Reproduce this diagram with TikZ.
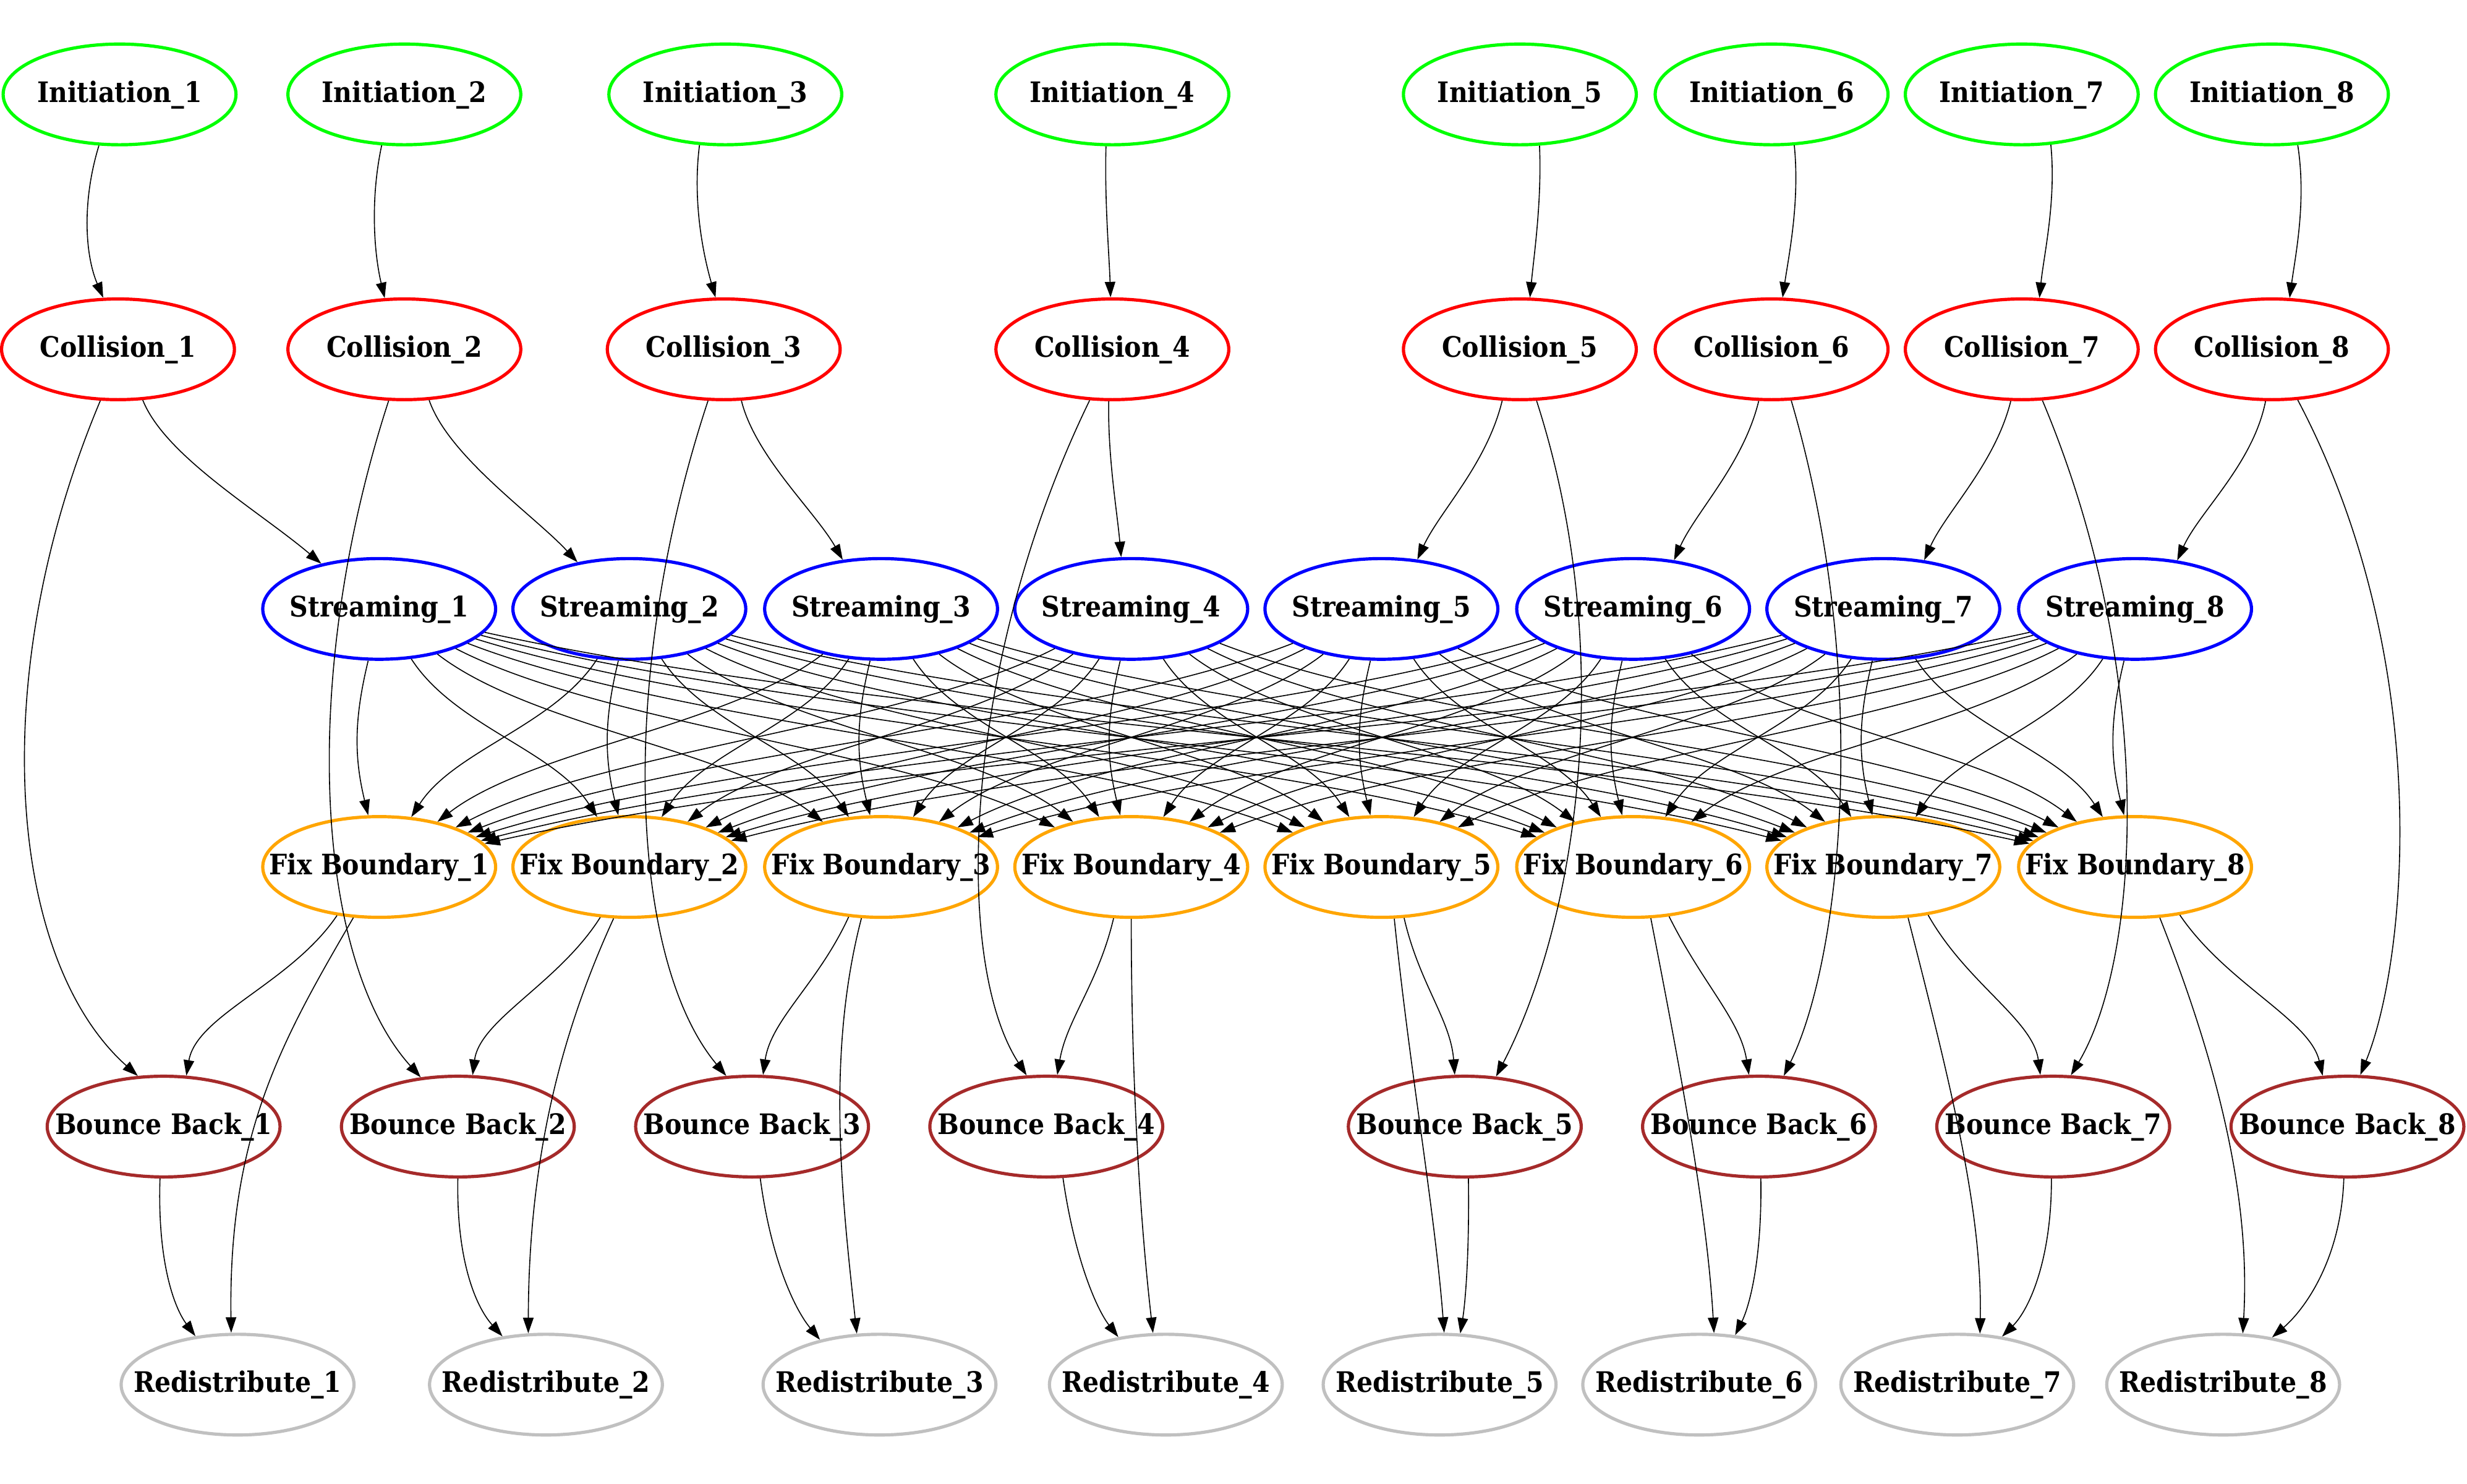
\documentclass[tikz,border=0pt]{standalone}
\usepackage{fontspec}
\setmainfont{DejaVu Serif Condensed}
\usetikzlibrary{shapes.geometric,arrows.meta,calc}
\definecolor{cini}{HTML}{00FF00}
\definecolor{ccol}{HTML}{FF0000}
\definecolor{cstr}{HTML}{0000FF}
\definecolor{cfix}{HTML}{FFA500}
\definecolor{cbb}{HTML}{A52A2A}
\definecolor{cred}{HTML}{C0C0C0}
\newcommand{\lbl}[1]{\makebox[0pt][c]{#1}}
\tikzset{
  nd/.style={ellipse, draw, line width=2.9pt, minimum width=74mm, minimum height=32mm, inner sep=0pt, text height=18pt, text depth=4pt, font=\fontsize{25.5}{30}\selectfont\bfseries},
  ini/.style={nd, draw=cini},
  col/.style={nd, draw=ccol},
  str/.style={nd, draw=cstr},
  fix/.style={nd, draw=cfix},
  bbk/.style={nd, draw=cbb},
  red/.style={nd, draw=cred},
  edge/.style={line width=0.9pt, -{Triangle[length=14pt,width=9.5pt]}}
}
\begin{document}
\begin{tikzpicture}[x=0.5mm,y=-0.5mm]
\useasboundingbox (0,0) rectangle (1568,943);
% Initiation
\node[ini] (i1) at (76,60) {\lbl{Initiation\_1}};
\node[ini] (i2) at (257,60) {\lbl{Initiation\_2}};
\node[ini] (i3) at (461,60) {\lbl{Initiation\_3}};
\node[ini] (i4) at (707,60) {\lbl{Initiation\_4}};
\node[ini] (i5) at (966,60) {\lbl{Initiation\_5}};
\node[ini] (i6) at (1126,60) {\lbl{Initiation\_6}};
\node[ini] (i7) at (1285,60) {\lbl{Initiation\_7}};
\node[ini] (i8) at (1444,60) {\lbl{Initiation\_8}};
% Collision
\node[col] (c1) at (75,222) {\lbl{Collision\_1}};
\node[col] (c2) at (257,222) {\lbl{Collision\_2}};
\node[col] (c3) at (460,222) {\lbl{Collision\_3}};
\node[col] (c4) at (707,222) {\lbl{Collision\_4}};
\node[col] (c5) at (966,222) {\lbl{Collision\_5}};
\node[col] (c6) at (1126,222) {\lbl{Collision\_6}};
\node[col] (c7) at (1285,222) {\lbl{Collision\_7}};
\node[col] (c8) at (1444,222) {\lbl{Collision\_8}};
% Streaming
\node[str] (s1) at (241,387) {\lbl{Streaming\_1}};
\node[str] (s2) at (400,387) {\lbl{Streaming\_2}};
\node[str] (s3) at (560,387) {\lbl{Streaming\_3}};
\node[str] (s4) at (719,387) {\lbl{Streaming\_4}};
\node[str] (s5) at (878,387) {\lbl{Streaming\_5}};
\node[str] (s6) at (1038,387) {\lbl{Streaming\_6}};
\node[str] (s7) at (1197,387) {\lbl{Streaming\_7}};
\node[str] (s8) at (1357,387) {\lbl{Streaming\_8}};
% Fix Boundary
\node[fix] (f1) at (241,551) {\lbl{Fix Boundary\_1}};
\node[fix] (f2) at (400,551) {\lbl{Fix Boundary\_2}};
\node[fix] (f3) at (560,551) {\lbl{Fix Boundary\_3}};
\node[fix] (f4) at (719,551) {\lbl{Fix Boundary\_4}};
\node[fix] (f5) at (878,551) {\lbl{Fix Boundary\_5}};
\node[fix] (f6) at (1038,551) {\lbl{Fix Boundary\_6}};
\node[fix] (f7) at (1197,551) {\lbl{Fix Boundary\_7}};
\node[fix] (f8) at (1357,551) {\lbl{Fix Boundary\_8}};
% Bounce Back
\node[bbk] (b1) at (104,716) {\lbl{Bounce Back\_1}};
\node[bbk] (b2) at (291,716) {\lbl{Bounce Back\_2}};
\node[bbk] (b3) at (478,716) {\lbl{Bounce Back\_3}};
\node[bbk] (b4) at (665,716) {\lbl{Bounce Back\_4}};
\node[bbk] (b5) at (931,716) {\lbl{Bounce Back\_5}};
\node[bbk] (b6) at (1118,716) {\lbl{Bounce Back\_6}};
\node[bbk] (b7) at (1305,716) {\lbl{Bounce Back\_7}};
\node[bbk] (b8) at (1492,716) {\lbl{Bounce Back\_8}};
% Redistribute
\node[red] (r1) at (151,880) {\lbl{Redistribute\_1}};
\node[red] (r2) at (347,880) {\lbl{Redistribute\_2}};
\node[red] (r3) at (559,880) {\lbl{Redistribute\_3}};
\node[red] (r4) at (741,880) {\lbl{Redistribute\_4}};
\node[red] (r5) at (915,880) {\lbl{Redistribute\_5}};
\node[red] (r6) at (1080,880) {\lbl{Redistribute\_6}};
\node[red] (r7) at (1244,880) {\lbl{Redistribute\_7}};
\node[red] (r8) at (1413,880) {\lbl{Redistribute\_8}};

% Initiation -> Collision
\draw[edge] (i1.248) .. controls (52,128) and (54,162) .. (c1.106);
\draw[edge] (i2.246) .. controls (235,128) and (238,162) .. (c2.111);
\draw[edge] (i3.243) .. controls (440,128) and (447,162) .. (c3.99);
\draw[edge] (i4.263) .. controls (702,128) and (705,162) .. (c4.92);
\draw[edge] (i5.291) .. controls (980,128) and (975,162) .. (c5.79);
\draw[edge] (i6.294) .. controls (1144,128) and (1137,162) .. (c6.78);
\draw[edge] (i7.300) .. controls (1307,128) and (1299,162) .. (c7.71);
\draw[edge] (i8.297) .. controls (1466,128) and (1459,162) .. (c8.71);

% Collision -> Streaming
\draw[edge] (c1.296) .. controls (105,290) and (165,325) .. (s1.142);
\draw[edge] (c2.296) .. controls (285,290) and (340,328) .. (s2.138);
\draw[edge] (c3.289) .. controls (480,290) and (518,325) .. (s3.128);
\draw[edge] (c4.266) .. controls (704,290) and (710,325) .. (s4.101);
\draw[edge] (c5.251) .. controls (945,295) and (915,325) .. (s5.54);
\draw[edge] (c6.256) .. controls (1108,295) and (1078,325) .. (s6.50);
\draw[edge] (c7.258) .. controls (1268,295) and (1237,325) .. (s7.50);
\draw[edge] (c8.263) .. controls (1432,295) and (1398,325) .. (s8.49);

% Collision -> Bounce Back
\draw[edge] (c1.251) .. controls (-10,430) and (5,610) .. (b1.117);
\draw[edge] (c2.253) .. controls (190,430) and (200,610) .. (b2.127);
\draw[edge] (c3.253) .. controls (392,430) and (400,610) .. (b3.117);
\draw[edge] (c4.246) .. controls (612,420) and (605,610) .. (b4.111);
\draw[edge] (c5.288) .. controls (1030,420) and (1000,590) .. (b5.58);
\draw[edge] (c6.291) .. controls (1190,430) and (1170,610) .. (b6.64);
\draw[edge] (c7.292) .. controls (1372,430) and (1360,610) .. (b7.71);
\draw[edge] (c8.297) .. controls (1548,420) and (1530,610) .. (b8.76);

% Streaming -> Fix Boundary (all pairs)
\foreach \i in {1,...,8}{
  \foreach \j in {1,...,8}{
    \ifnum\i=\j
      \draw[edge] (s\i.258) .. controls ($(s\i)+(-16,70)$) and ($(f\j)+(-16,-70)$) .. (f\j.102);
    \else
      \draw[edge] (s\i) .. controls ($(s\i)!0.3!(f\j)+(0,25)$) and ($(f\j)!0.3!(s\i)+(0,-25)$) .. (f\j);
    \fi
  }
}

% Fix Boundary -> Bounce Back
\draw[edge] (f1.229) .. controls (185,625) and (125,645) .. (b1.66);
\draw[edge] (f2.240) .. controls (355,625) and (305,648) .. (b2.74);
\draw[edge] (f3.237) .. controls (520,625) and (490,648) .. (b3.78);
\draw[edge] (f4.251) .. controls (698,625) and (678,648) .. (b4.78);
\draw[edge] (f5.294) .. controls (902,625) and (922,648) .. (b5.101);
\draw[edge] (f6.306) .. controls (1082,625) and (1106,648) .. (b6.101);
\draw[edge] (f7.313) .. controls (1250,625) and (1292,648) .. (b7.104);
\draw[edge] (f8.313) .. controls (1415,625) and (1468,648) .. (b8.116);

% Fix Boundary -> Redistribute
\draw[edge] (f1.243) .. controls (180,660) and (145,720) .. (r1.97);
\draw[edge] (f2.253) .. controls (355,660) and (336,740) .. (r2.109);
\draw[edge] (f3.249) .. controls (525,670) and (535,760) .. (r3.114);
\draw[edge] (f4.270) .. controls (719,680) and (724,770) .. (r4.104);
\draw[edge] (f5.284) .. controls (896,680) and (912,770) .. (r5.85);
\draw[edge] (f6.289) .. controls (1068,680) and (1085,770) .. (r6.74);
\draw[edge] (f7.296) .. controls (1240,690) and (1260,770) .. (r7.66);
\draw[edge] (f8.296) .. controls (1415,690) and (1430,770) .. (r8.69);

% Bounce Back -> Redistribute
\draw[edge] (b1.266) .. controls (100,800) and (110,830) .. (r1.131);
\draw[edge] (b2.270) .. controls (290,800) and (302,830) .. (r2.132);
\draw[edge] (b3.279) .. controls (490,800) and (505,832) .. (r3.143);
\draw[edge] (b4.288) .. controls (683,800) and (697,832) .. (r4.135);
\draw[edge] (b5.274) .. controls (934,800) and (931,830) .. (r5.68);
\draw[edge] (b6.272) .. controls (1120,800) and (1112,830) .. (r6.54);
\draw[edge] (b7.268) .. controls (1304,800) and (1290,832) .. (r7.47);
\draw[edge] (b8.266) .. controls (1488,800) and (1465,832) .. (r8.44);
\end{tikzpicture}
\end{document}
